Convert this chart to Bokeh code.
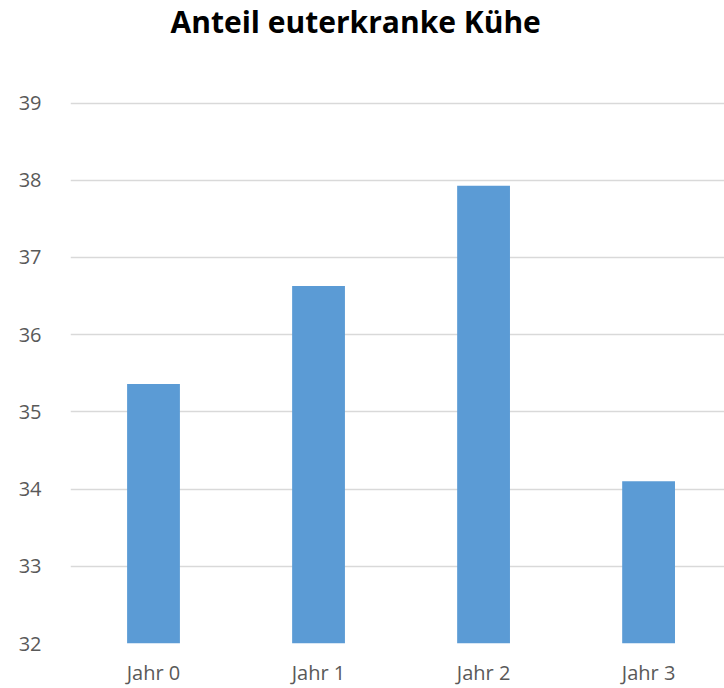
from bokeh.plotting import figure
from bokeh.models import Range1d, FixedTicker, ColumnDataSource, Title
from bokeh.embed import file_html
from bokeh.resources import INLINE

categories = ["Jahr 0", "Jahr 1", "Jahr 2", "Jahr 3"]
values = [35.36, 36.63, 37.93, 34.10]
y_ticks = [32, 33, 34, 35, 36, 37, 38, 39]
title_text = "Anteil euterkranke Kühe"

xs = list(range(len(categories)))
src = ColumnDataSource(dict(x=xs, top=values, cat=categories))

p = figure(width=724, height=688, output_backend="svg", toolbar_location=None,
           x_range=Range1d(-0.503, 3.46), y_range=Range1d(32, 39.02),
           min_border_left=70, min_border_right=0, min_border_top=0, min_border_bottom=42)
p.outline_line_color = None
p.background_fill_color = "white"
p.border_fill_color = "white"

# spacer between title and plot frame (closest to frame)
p.add_layout(Title(text=" ", text_font_size="10px", standoff=45), "above")
# main title (outermost)
p.add_layout(Title(text=title_text, align="left", vertical_align="top", offset=100,
                   standoff=0, text_font="Open Sans", text_font_style="bold",
                   text_font_size="30px", text_color="black"), "above")

p.vbar(x="x", top="top", bottom=32, width=0.32, source=src,
       fill_color="#5B9BD5", line_color=None)

p.xgrid.grid_line_color = None
p.ygrid.grid_line_color = "#D9D9D9"
p.ygrid.grid_line_width = 1.5
p.ygrid.ticker = FixedTicker(ticks=y_ticks)

p.yaxis.ticker = FixedTicker(ticks=y_ticks)
p.xaxis.ticker = FixedTicker(ticks=xs)
p.xaxis.major_label_overrides = {i: c for i, c in zip(xs, categories)}

for ax in (p.xaxis[0], p.yaxis[0]):
    ax.axis_line_color = None
    ax.major_tick_line_color = None
    ax.minor_tick_line_color = None
    ax.major_label_text_color = "#595959"
    ax.major_label_text_font = "Open Sans"
    ax.major_label_text_font_size = "20px"
p.yaxis.major_label_standoff = 23
p.xaxis.major_label_standoff = 9

open("out.html", "w").write(file_html(p, INLINE))
